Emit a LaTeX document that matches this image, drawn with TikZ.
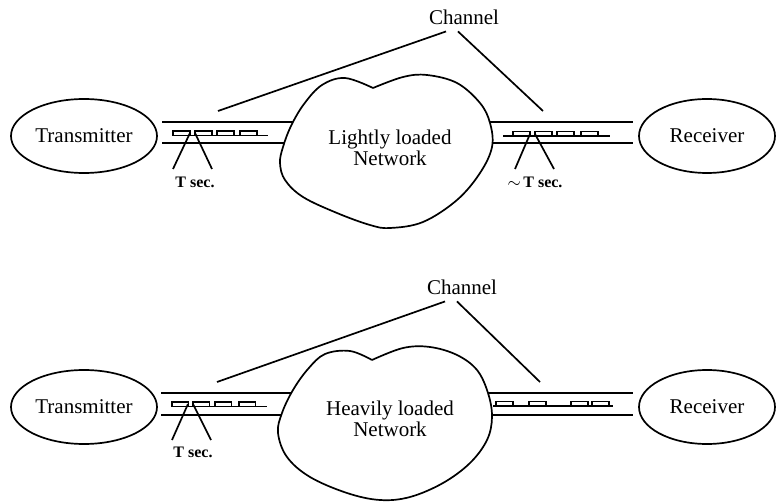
\documentclass[tikz,border=0pt]{standalone}
\usepackage{fontspec}
\setmainfont{Liberation Serif}
\usepackage{tikz}
\usetikzlibrary{shapes.geometric, positioning, calc}

\begin{document}
\begin{tikzpicture}[
        x=0.5pt, y=-0.5pt,
        wire/.style={line width=0.85pt},
        unit/.style={draw, ellipse, line width=0.85pt, inner sep=0pt, font=\fontsize{10.5}{12}\selectfont},
        net/.style={align=center, font=\fontsize{10.5}{10.5}\selectfont},
        lbl/.style={font=\fontsize{10.5}{12}\selectfont},
        gap/.style={font=\fontsize{8}{9}\selectfont\bfseries}
    ]
    \useasboundingbox (0,0) rectangle (776,502);

    % Lightly loaded network
    \node[unit, minimum width=73pt, minimum height=37pt] (tx1) at (84,136) {Transmitter};
    \node[unit, minimum width=68pt, minimum height=37pt] (rx1) at (707,136) {Receiver};
    \draw[wire] (162,122.3) -- (300,122.3); \draw[wire] (162,143.3) -- (300,143.3);
    \draw[wire] (480,122.3) -- (633,122.3); \draw[wire] (480,143.3) -- (633,143.3);
    \filldraw[wire, fill=white] plot[smooth, tension=0.6] coordinates {(373,88) (345,78) (322,85) (304,104) (291,126) (283,147) (280,163) (285,180) (303,197) (337,213) (370,225) (390,228) (423,222) (457,200) (480,173) (492,147) (490,123) (480,103) (457,83) (427,75) (403,77) (373,88)};
    \node[net] (net1) at (390,148) {Lightly loaded\\Network};

    % packets on the wire
    \draw[wire] (172,135.5) -- (268,135.5);
    \foreach \x in {173,195,217,240} \draw[wire] (\x,135.5) rectangle ++(17,-4.5);
    \draw[wire] (503,136) -- (610,136);
    \foreach \x in {513,535,557,581} \draw[wire] (\x,136) rectangle ++(17,-4.5);

    \node[gap] (t1) at (195,182) {T sec.};
    \node[gap] (t2) at (535,182) {$\sim$\,T sec.};
    \coordinate (p1a) at (190,133); \coordinate (p1b) at (195,133);
    \coordinate (p2a) at (530,134); \coordinate (p2b) at (535,134);
    \draw[wire] (p1a) -- (173,169); \draw[wire] (p1b) -- (212,169);
    \draw[wire] (p2a) -- (515,169); \draw[wire] (p2b) -- (554,169);

    \node[lbl] (ch1) at (464,17) {Channel};
    \coordinate (cl1) at (218,111); \coordinate (cr1) at (543,111);
    \draw[wire] ($(ch1.south)+(-18,0)$) -- (cl1);
    \draw[wire] ($(ch1.south)+(-6,0)$) -- (cr1);

    % Heavily loaded network
    \node[unit, minimum width=73pt, minimum height=37pt] (tx2) at (84,407) {Transmitter};
    \node[unit, minimum width=68pt, minimum height=37pt] (rx2) at (707,407) {Receiver};
    \draw[wire] (161,392.7) -- (300,392.7); \draw[wire] (161,415) -- (300,415);
    \draw[wire] (480,392.7) -- (633,392.7); \draw[wire] (480,415) -- (633,415);
    \filldraw[wire, fill=white] plot[smooth, tension=0.6] coordinates {(372,360) (350,351) (325,354) (308,369) (293,390) (282,413) (278,433) (287,457) (310,477) (347,493) (380,500) (410,497) (443,483) (470,463) (487,440) (492,417) (488,393) (477,370) (457,355) (430,347) (403,348) (372,360)};
    \node[net] (net2) at (390,419) {Heavily loaded\\Network};

    % packets on the wire
    \draw[wire] (172,406.5) -- (267,406.5);
    \foreach \x in {172,193,215,239} \draw[wire] (\x,406.5) rectangle ++(16.5,-4.5);
    \draw[wire] (493,406) -- (613,406);
    \foreach \x in {496,529,571,592} \draw[wire] (\x,406) rectangle ++(17,-4.5);

    \node[gap] (t3) at (193,452) {T sec.};
    \coordinate (p3a) at (188,404); \coordinate (p3b) at (193,404);
    \draw[wire] (p3a) -- (172,440); \draw[wire] (p3b) -- (211,440);

    \node[lbl] (ch2) at (462,287) {Channel};
    \coordinate (cl2) at (217,382); \coordinate (cr2) at (540,382);
    \draw[wire] ($(ch2.south)+(-17,0)$) -- (cl2);
    \draw[wire] ($(ch2.south)+(-5,0)$) -- (cr2);

    \end{tikzpicture}
\end{document}
